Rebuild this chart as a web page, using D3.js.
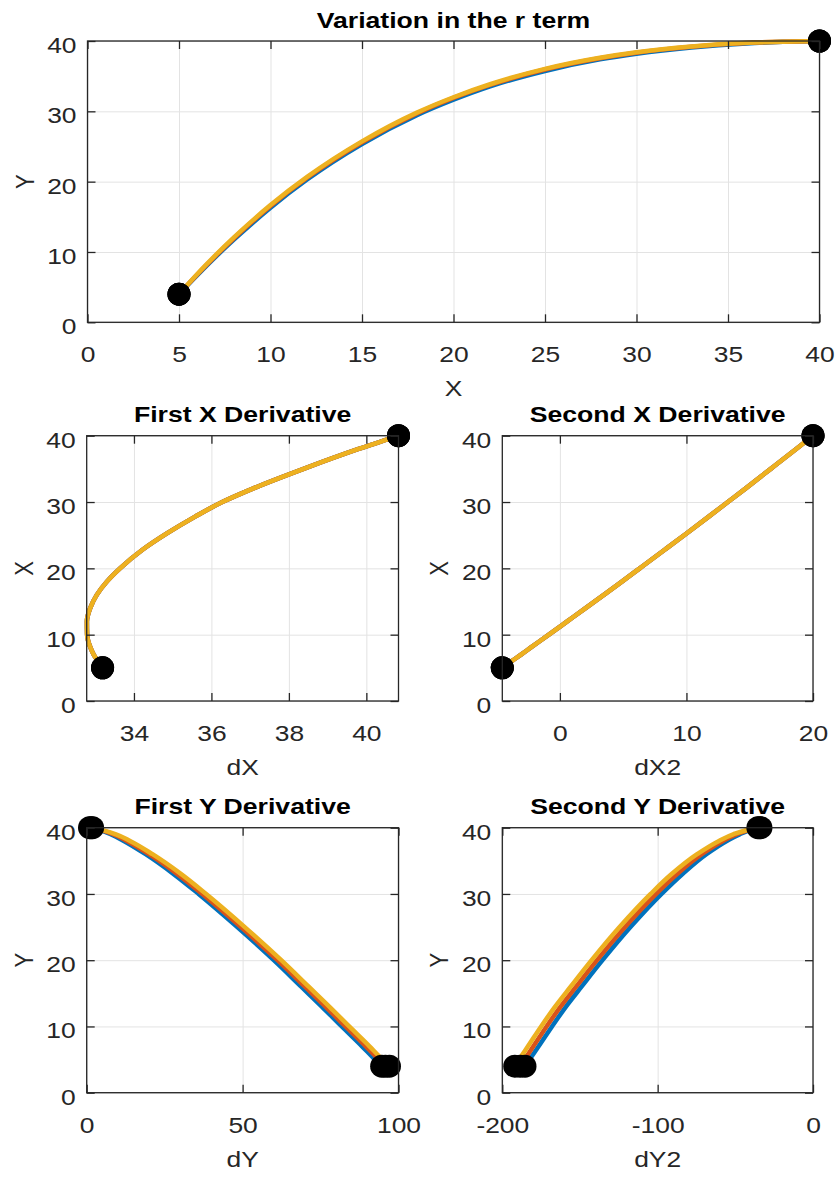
<!DOCTYPE html>
<html><head><meta charset="utf-8">
<script src="https://cdn.jsdelivr.net/npm/d3@7"></script>
<style>body{margin:0;background:#fff}svg{display:block}</style>
</head><body>
<svg id="chart" width="838" height="1178"></svg>
<script>
// ---------------- data ----------------
const seriesNames  = ["r = 1", "r = 2", "r = 3"];
const seriesColors = ["#0072BD", "#D95319", "#EDB120"];

// Top panel: Y against X
const pathX = [5,6,7,8,10,12,15,18,20,22,25,28,30,33,36,38,40];
const pathY = [
  [4,6.7,9.3,11.75,16.3,20.3,25.35,29.45,31.65,33.55,35.74,37.39,38.19,39.08,39.66,39.88,40],
  [4,6.8,9.45,11.95,16.55,20.55,25.6,29.7,31.9,33.75,35.94,37.54,38.34,39.18,39.71,39.9,40],
  [4,6.88,9.55,12.07,16.67,20.67,25.72,29.82,32.0,33.85,36.04,37.62,38.4,39.23,39.74,39.91,40]
];

// Middle panels: X against its derivatives (identical for every r)
const levelsX = [5,6,7,8,10,12,14,16,18,20,22.8,25.3,27.8,30,32.1,35,38,40];
const dXvals  = [33.19,33.07,32.96,32.88,32.79,32.785,32.87,33.04,33.3,33.64,34.22,34.86,35.58,36.28,37.1,38.38,39.8,40.83];
const dX2vals = [-4.55,-3.81,-3.07,-2.34,-0.87,0.58,2.03,3.47,4.9,6.31,8.28,10.03,11.76,13.27,14.71,16.66,18.67,20];

// Bottom panels: Y against its derivatives
const levelsY = [4,5.5,7,10,13,16,20,25,30,33,36,38,39,39.7,40];
const dYvals = [
  [94.6,91.4,88.3,81.8,75.4,68.8,60.0,48.3,35.9,27.9,18.9,11.9,7.8,3.5,0.9],
  [95.8,92.6,89.5,83.0,76.6,70.0,61.2,49.5,37.1,29.1,20.0,12.9,8.6,4.0,1.4],
  [97.1,93.8,90.7,84.2,77.8,71.2,62.4,50.7,38.3,30.3,21.1,13.9,9.4,4.5,1.9]
];
const dY2vals = [
  [-185.4,-181.0,-176.6,-168.0,-159.0,-149.0,-135.5,-117.5,-97.5,-84.0,-68.6,-55.5,-47.2,-39.2,-33.5],
  [-188.5,-184.3,-180,-171.5,-162.5,-152.5,-139,-121,-101,-87.5,-71.6,-58,-49.3,-40.5,-34.5],
  [-192,-187.8,-183.5,-175,-166,-156,-142.5,-124.5,-104.5,-91,-74.6,-60.5,-51.4,-41.8,-35.5]
];

// Axis limits and ticks
const ticks0to40  = [0,10,20,30,40];
const topXTicks   = [0,5,10,15,20,25,30,35,40];
const dXTicks     = [34,36,38,40];
const dX2Ticks    = [0,10,20];
const dYTicks     = [0,50,100];
const dY2Ticks    = [-200,-100,0];

// ---------------- layout ----------------
const svg = d3.select("#chart");
const FONT = "'Liberation Sans', Arial, Helvetica, sans-serif";
const INK = "#262626";
const SX = 1.2;     // horizontal stretch of regular text
const SXT = 1.21;   // horizontal stretch of titles

function zipPts(xs, ys) { return xs.map((x, i) => [x, ys[i]]); }

const panels = [
  { box:[87.5, 819.5, 41, 322.3], xd:[0,40], yd:[0,40], xt:topXTicks, yt:ticks0to40,
    title:"Variation in the r term", xl:"X", yl:"Y", curve: d3.curveMonotoneX,
    series: seriesNames.map((n,i) => zipPts(pathX, pathY[i])) },
  { box:[86.7, 398.5, 435.7, 701], xd:[32.78,40.83], yd:[0,40], xt:dXTicks, yt:ticks0to40,
    title:"First X Derivative", xl:"dX", yl:"X", curve: d3.curveMonotoneY,
    series: seriesNames.map(() => zipPts(dXvals, levelsX)) },
  { box:[502.3, 813, 435.7, 701], xd:[-4.55,20], yd:[0,40], xt:dX2Ticks, yt:ticks0to40,
    title:"Second X Derivative", xl:"dX2", yl:"X", curve: d3.curveMonotoneY,
    series: seriesNames.map(() => zipPts(dX2vals, levelsX)) },
  { box:[86.7, 398.5, 827.7, 1092.7], xd:[0,100], yd:[0,40], xt:dYTicks, yt:ticks0to40,
    title:"First Y Derivative", xl:"dY", yl:"Y", curve: d3.curveMonotoneY,
    series: seriesNames.map((n,i) => zipPts(dYvals[i], levelsY)) },
  { box:[502.3, 813, 827.7, 1092.7], xd:[-200,0], yd:[0,40], xt:dY2Ticks, yt:ticks0to40,
    title:"Second Y Derivative", xl:"dY2", yl:"Y", curve: d3.curveMonotoneY,
    series: seriesNames.map((n,i) => zipPts(dY2vals[i], levelsY)) }
];

function label(g, x, y, s, o) {
  const sx = o.sx || SX;
  g.append("text")
    .attr("transform", `translate(${x},${y}) scale(${sx},1)` + (o.rot ? " rotate(-90)" : ""))
    .attr("text-anchor", o.anchor || "middle")
    .attr("font-family", FONT)
    .attr("font-size", o.size || 22)
    .attr("font-weight", o.bold ? "bold" : "normal")
    .attr("fill", o.fill || INK)
    .text(s);
}

panels.forEach(p => {
  const [L, R, T, B] = p.box;
  const W = R - L, H = B - T;
  const x = d3.scaleLinear().domain(p.xd).range([L, R]);
  const y = d3.scaleLinear().domain(p.yd).range([B, T]);
  const fmt = d => String(d);
  const g = svg.append("g");

  // grid
  g.append("g").attr("transform", `translate(0,${B})`)
    .call(d3.axisBottom(x).tickValues(p.xt).tickSize(-H).tickFormat(""))
    .call(a => a.select(".domain").remove())
    .call(a => a.selectAll("line").attr("stroke", "#e3e3e3").attr("stroke-width", 1));
  g.append("g").attr("transform", `translate(${L},0)`)
    .call(d3.axisLeft(y).tickValues(p.yt).tickSize(-W).tickFormat(""))
    .call(a => a.select(".domain").remove())
    .call(a => a.selectAll("line").attr("stroke", "#e3e3e3").attr("stroke-width", 1));

  // lines
  const line = d3.line().x(d => x(d[0])).y(d => y(d[1])).curve(p.curve);
  p.series.forEach((pts, i) => {
    g.append("path").attr("d", line(pts)).attr("fill", "none")
      .attr("stroke", seriesColors[i]).attr("stroke-width", 4.5)
      .attr("stroke-linejoin", "round").attr("stroke-linecap", "butt");
  });
  // end markers
  p.series.forEach(pts => {
    [pts[0], pts[pts.length - 1]].forEach(d => {
      g.append("circle").attr("cx", x(d[0])).attr("cy", y(d[1])).attr("r", 11.5).attr("fill", "#000");
    });
  });

  // axes (inward ticks on all four sides)
  const axB = g.append("g").attr("transform", `translate(0,${B})`)
    .call(d3.axisBottom(x).tickValues(p.xt).tickSizeInner(-8).tickSizeOuter(0).tickFormat(fmt));
  axB.selectAll("text").attr("y", 0).attr("dy", 0)
    .attr("transform", `translate(0,40) scale(${SX},1)`)
    .attr("font-family", FONT).attr("font-size", 22).attr("fill", INK);
  const axL = g.append("g").attr("transform", `translate(${L},0)`)
    .call(d3.axisLeft(y).tickValues(p.yt).tickSizeInner(-8).tickSizeOuter(0).tickFormat(fmt));
  axL.selectAll("text").attr("x", 0).attr("dy", 0)
    .attr("transform", `translate(-11,11.5) scale(${SX},1)`)
    .attr("font-family", FONT).attr("font-size", 22).attr("fill", INK);
  g.append("g").attr("transform", `translate(0,${T})`)
    .call(d3.axisTop(x).tickValues(p.xt).tickSizeInner(-8).tickSizeOuter(0).tickFormat(""));
  g.append("g").attr("transform", `translate(${R},0)`)
    .call(d3.axisRight(y).tickValues(p.yt).tickSizeInner(-8).tickSizeOuter(0).tickFormat(""));
  g.selectAll(".tick line").filter(function(){ return d3.select(this).attr("stroke") === "currentColor"; })
    .attr("stroke", INK).attr("stroke-width", 1.3);
  g.selectAll(".domain").remove();
  g.append("rect").attr("x", L).attr("y", T).attr("width", W).attr("height", H)
    .attr("fill", "none").attr("stroke", INK).attr("stroke-width", 1.3);

  // texts
  const cx = (L + R) / 2, cy = (T + B) / 2;
  label(svg, cx, T - 13.5, p.title, { bold: true, size: 22, sx: SXT, fill: "#000" });
  label(svg, cx, B + 74, p.xl, {});
  label(svg, L - 54, cy, p.yl, { rot: true });
});
</script>
</body></html>
